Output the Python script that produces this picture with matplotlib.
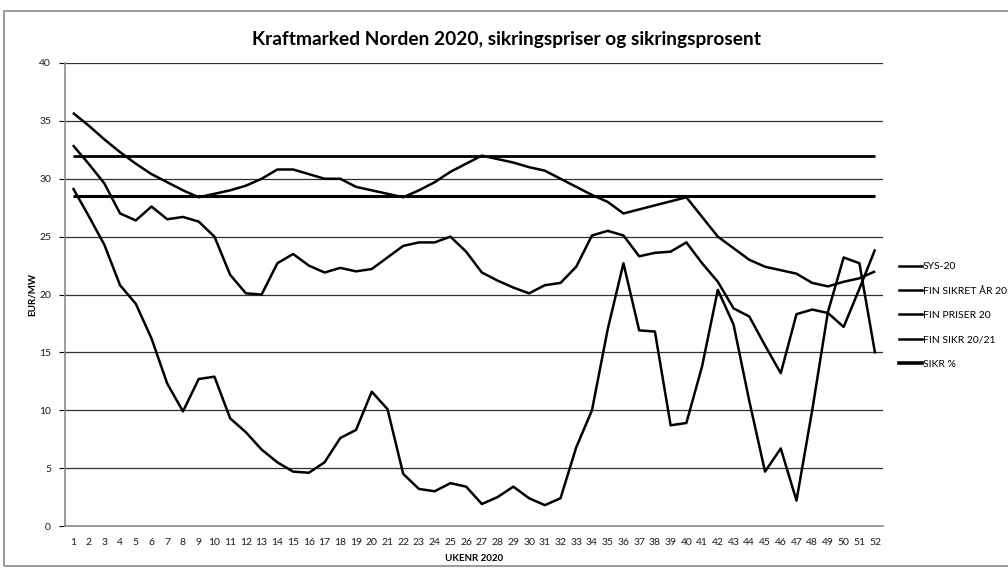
import matplotlib
matplotlib.use("Agg")
import matplotlib.pyplot as plt
from matplotlib.patches import Rectangle
from matplotlib.lines import Line2D

plt.rcParams['font.family'] = ['Lato', 'DejaVu Sans']

weeks = list(range(1, 53))

sys_20 = [29.2, 26.8, 24.3, 20.8, 19.2, 16.2, 12.3, 9.9, 12.7, 12.9,
          9.3, 8.1, 6.6, 5.5, 4.7, 4.6, 5.5, 7.6, 8.3, 11.6,
          10.1, 4.5, 3.2, 3.0, 3.7, 3.4, 1.9, 2.5, 3.4, 2.4,
          1.8, 2.4, 6.8, 10.0, 17.0, 22.7, 16.9, 16.8, 8.7, 8.9,
          13.8, 20.4, 17.4, 10.8, 4.7, 6.7, 2.2, 10.0, 18.5, 23.2,
          22.7, 14.9]

fin_priser_20 = [35.7, 34.6, 33.4, 32.3, 31.3, 30.4, 29.7, 29.0, 28.4, 28.7,
                 29.0, 29.4, 30.0, 30.8, 30.8, 30.4, 30.0, 30.0, 29.3, 29.0,
                 28.7, 28.4, 29.0, 29.7, 30.6, 31.3, 32.0, 31.7, 31.4, 31.0,
                 30.7, 30.0, 29.3, 28.6, 28.0, 27.0, 27.35, 27.7, 28.05, 28.4,
                 26.7, 25.0, 24.0, 23.0, 22.4, 22.1, 21.8, 21.0, 20.7, 21.1,
                 21.4, 22.0]

fin_sikr_20_21 = [32.9, 31.3, 29.6, 27.0, 26.4, 27.6, 26.5, 26.7, 26.3, 25.0,
                  21.7, 20.1, 20.0, 22.7, 23.5, 22.5, 21.9, 22.3, 22.0, 22.2,
                  23.2, 24.2, 24.5, 24.5, 25.0, 23.7, 21.9, 21.2, 20.6, 20.1,
                  20.8, 21.0, 22.4, 25.1, 25.5, 25.1, 23.3, 23.6, 23.7, 24.5,
                  22.7, 21.1, 18.8, 18.1, 15.6, 13.2, 18.3, 18.7, 18.4, 17.2,
                  20.5, 23.9]

fin_sikret_aar_20 = 32.0
sikr_pct = 28.5

series_names = ["SYS-20", "FIN SIKRET ÅR 20", "FIN PRISER 20", "FIN SIKR 20/21", "SIKR %"]
title = "Kraftmarked Norden 2020, sikringspriser og sikringsprosent"
y_ticks = [0, 5, 10, 15, 20, 25, 30, 35, 40]

fig = plt.figure(figsize=(10.08, 5.76), dpi=100)
fig.patches.append(Rectangle((4 / 1008, 1 - 566 / 576), 1.0, (566 - 11) / 576,
                             transform=fig.transFigure, fill=False,
                             edgecolor='#8a8a8a', linewidth=1.2))

ax = fig.add_axes([65 / 1008, 1 - 526 / 576, (883 - 65) / 1008, (526 - 63) / 576])

for y in y_ticks[1:]:
    ax.axhline(y, color='#303030', linewidth=0.9, zorder=1)

kw = dict(color='black', solid_joinstyle='round', solid_capstyle='butt', zorder=3)
ax.plot(weeks, sys_20, linewidth=1.8, **kw)
ax.hlines(fin_sikret_aar_20, weeks[0], weeks[-1], colors='black', linewidth=2.0, zorder=3)
ax.plot(weeks, fin_priser_20, linewidth=1.8, **kw)
ax.plot(weeks, fin_sikr_20_21, linewidth=1.8, **kw)
ax.hlines(sikr_pct, weeks[0], weeks[-1], colors='black', linewidth=2.2, zorder=3)

ax.set_xlim(0.5, 52.5)
ax.set_ylim(0, 40)
ax.set_yticks(y_ticks)
ax.set_yticklabels([str(v) for v in y_ticks])
ax.set_xticks(weeks)
ax.set_xticklabels([str(w) for w in weeks])
ax.tick_params(axis='both', labelsize=7.5, colors='black', length=4, width=0.8)
ax.tick_params(axis='x', length=0, pad=8.5)
ax.tick_params(axis='y', pad=6)
for lab in ax.get_xticklabels() + ax.get_yticklabels():
    lab.set_color('#1a1a1a')

for s in ['top', 'right']:
    ax.spines[s].set_visible(False)
ax.spines['left'].set_color('#8a8a8a')
ax.spines['bottom'].set_color('#8a8a8a')
ax.spines['left'].set_linewidth(1.2)
ax.spines['bottom'].set_linewidth(1.2)

ax.set_xlabel("UKENR 2020", fontsize=7, fontweight='bold', labelpad=5)
ax.set_ylabel("EUR/MW", fontsize=7, fontweight='bold', labelpad=2)

fig.text(0.502, 1 - 40 / 576, title, ha='center', va='center',
         fontsize=13.8, fontweight='bold')

handles = [Line2D([], [], color='black', linewidth=1.8),
           Line2D([], [], color='black', linewidth=1.8),
           Line2D([], [], color='black', linewidth=1.8),
           Line2D([], [], color='black', linewidth=1.8),
           Line2D([], [], color='black', linewidth=2.6)]
fig.legend(handles, series_names, loc='upper left',
           bbox_to_anchor=(899 / 1008, 1 - 262 / 576), frameon=False,
           fontsize=7.5, handlelength=2.2, handletextpad=0.1,
           labelspacing=1.45, borderaxespad=0, borderpad=0)

fig.savefig("out.png", dpi=100)
